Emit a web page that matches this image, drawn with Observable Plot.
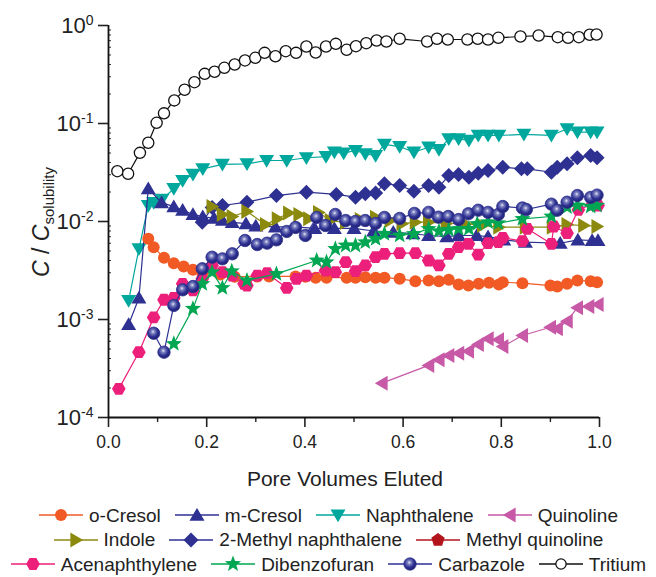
<!DOCTYPE html>
<html><head><meta charset="utf-8">
<script src="https://cdn.jsdelivr.net/npm/d3@7"></script>
<script src="https://cdn.jsdelivr.net/npm/@observablehq/plot@0.6"></script>
<style>
body{margin:0;background:#fff;font-family:"Liberation Sans",Arial,sans-serif;overflow:hidden;}
#wrap{width:656px;}
.legrow{display:flex;justify-content:center;align-items:center;height:24.5px;font-size:19px;line-height:21px;color:#222;white-space:nowrap;}
.item{display:flex;align-items:center;margin:0 6.5px;}
.item svg{margin-right:5px;}
</style></head><body><div id="wrap"></div>
<script>
// ---------- data (x = pore volumes eluted, y = C / C_solubility) ----------
const tritium = [[0.018,0.0326],[0.040,0.0307],[0.064,0.0502],[0.081,0.0636],[0.098,0.1016],[0.113,0.127],[0.134,0.172],[0.155,0.221],[0.175,0.264],[0.196,0.321],[0.216,0.337],[0.236,0.370],[0.257,0.400],[0.278,0.440],[0.299,0.468],[0.318,0.526],[0.340,0.486],[0.361,0.547],[0.382,0.526],[0.403,0.610],[0.422,0.530],[0.443,0.610],[0.463,0.650],[0.485,0.565],[0.504,0.615],[0.525,0.660],[0.546,0.703],[0.566,0.687],[0.593,0.732],[0.649,0.687],[0.669,0.732],[0.691,0.720],[0.731,0.720],[0.752,0.732],[0.773,0.720],[0.794,0.749],[0.839,0.772],[0.876,0.790],[0.915,0.760],[0.936,0.749],[0.958,0.760],[0.980,0.804],[0.994,0.810]];
const naphthalene = [[0.041,0.00156],[0.062,0.00526],[0.081,0.01456],[0.092,0.0156],[0.109,0.0168],[0.133,0.0216],[0.151,0.0262],[0.172,0.0302],[0.192,0.0345],[0.232,0.0382],[0.282,0.0388],[0.322,0.0419],[0.363,0.0419],[0.403,0.0447],[0.443,0.0460],[0.460,0.0509],[0.479,0.0498],[0.503,0.0530],[0.523,0.0491],[0.544,0.0471],[0.562,0.0611],[0.593,0.0582],[0.622,0.0509],[0.652,0.0573],[0.673,0.0540],[0.693,0.0698],[0.713,0.0698],[0.734,0.0671],[0.753,0.0755],[0.773,0.0755],[0.795,0.0755],[0.846,0.0773],[0.902,0.0755],[0.934,0.0883],[0.955,0.0815],[0.982,0.0815],[0.995,0.0815]];
const mCresol = [[0.041,0.00089],[0.062,0.00166],[0.081,0.0216],[0.108,0.0156],[0.133,0.0142],[0.151,0.0131],[0.172,0.0118],[0.192,0.0112],[0.215,0.0108],[0.232,0.0103],[0.252,0.0098],[0.28,0.0095],[0.30,0.0090],[0.34,0.0088],[0.38,0.0088],[0.42,0.0085],[0.46,0.0085],[0.50,0.0085],[0.54,0.0080],[0.58,0.0078],[0.62,0.0075],[0.652,0.0072],[0.689,0.0070],[0.713,0.0072],[0.75,0.0072],[0.773,0.0070],[0.805,0.0065],[0.849,0.00615],[0.92,0.0060],[0.956,0.0065],[0.985,0.0064],[0.997,0.0064]];
const methylNaphthalene = [[0.191,0.0098],[0.211,0.0139],[0.232,0.01456],[0.282,0.01574],[0.342,0.0184],[0.403,0.0199],[0.464,0.0189],[0.503,0.0177],[0.523,0.0192],[0.544,0.0195],[0.562,0.0243],[0.593,0.0233],[0.622,0.0204],[0.652,0.0233],[0.673,0.0224],[0.693,0.0295],[0.713,0.0302],[0.734,0.0283],[0.753,0.0311],[0.773,0.0331],[0.803,0.0358],[0.841,0.0345],[0.853,0.0345],[0.902,0.0318],[0.914,0.0358],[0.934,0.0388],[0.955,0.0447],[0.982,0.0471],[0.995,0.0447]];
const indole = [[0.211,0.0142],[0.232,0.0118],[0.252,0.01125],[0.282,0.01265],[0.320,0.0093],[0.344,0.01066],[0.367,0.01222],[0.388,0.0118],[0.408,0.01066],[0.428,0.01236],[0.452,0.01023],[0.483,0.00977],[0.513,0.01047],[0.544,0.01107],[0.574,0.01023],[0.598,0.00948],[0.625,0.00984],[0.652,0.00984],[0.688,0.00955],[0.727,0.00948],[0.762,0.0091],[0.795,0.00875],[0.849,0.00875],[0.904,0.00875],[0.934,0.0093],[0.968,0.0091],[0.995,0.0089]];
const oCresol = [[0.081,0.00665],[0.092,0.00547],[0.113,0.00426],[0.133,0.00375],[0.153,0.00347],[0.172,0.00322],[0.191,0.00297],[0.228,0.00288],[0.257,0.00273],[0.303,0.00275],[0.327,0.00275],[0.381,0.00275],[0.401,0.00273],[0.422,0.00267],[0.444,0.00267],[0.485,0.00267],[0.503,0.00267],[0.523,0.0027],[0.544,0.00267],[0.562,0.00267],[0.593,0.0026],[0.625,0.00246],[0.652,0.0025],[0.673,0.00246],[0.693,0.00254],[0.713,0.00228],[0.733,0.00222],[0.754,0.00231],[0.775,0.00237],[0.795,0.00228],[0.803,0.0024],[0.843,0.00235],[0.900,0.00222],[0.914,0.00217],[0.934,0.00231],[0.955,0.0025],[0.982,0.00246],[0.995,0.0024]];
const acenaphthylene = [[0.021,0.000196],[0.062,0.000464],[0.092,0.00105],[0.113,0.00159],[0.133,0.00166],[0.151,0.00231],[0.172,0.00198],[0.191,0.0026],[0.211,0.00356],[0.232,0.00304],[0.252,0.00281],[0.276,0.00231],[0.282,0.00222],[0.303,0.00281],[0.323,0.00297],[0.363,0.0021],[0.383,0.0026],[0.403,0.00281],[0.442,0.00316],[0.462,0.00304],[0.483,0.00385],[0.503,0.00311],[0.523,0.00356],[0.544,0.00432],[0.562,0.00468],[0.593,0.00475],[0.625,0.00475],[0.652,0.0040],[0.673,0.00356],[0.693,0.00468],[0.713,0.00547],[0.733,0.00592],[0.753,0.0046],[0.773,0.00601],[0.794,0.00615],[0.803,0.00682],[0.843,0.0063],[0.853,0.00843],[0.902,0.00592],[0.907,0.00889],[0.934,0.0076],[0.957,0.01316],[0.985,0.0149],[0.997,0.01456]];
const dibenzofuran = [[0.133,0.000565],[0.172,0.00129],[0.191,0.00231],[0.211,0.00304],[0.232,0.0021],[0.251,0.00311],[0.282,0.0025],[0.342,0.00292],[0.424,0.0040],[0.444,0.00385],[0.462,0.00526],[0.483,0.00569],[0.503,0.00569],[0.523,0.00615],[0.544,0.00665],[0.562,0.00748],[0.593,0.0072],[0.622,0.00748],[0.652,0.00843],[0.673,0.00796],[0.693,0.00822],[0.713,0.00843],[0.734,0.00843],[0.751,0.00946],[0.773,0.00984],[0.794,0.0096],[0.843,0.01064],[0.902,0.01125],[0.934,0.0140],[0.955,0.01456],[0.982,0.01422],[0.995,0.01456]];
const carbazole = [[0.092,0.000724],[0.113,0.000464],[0.133,0.00139],[0.151,0.00201],[0.172,0.00217],[0.191,0.00329],[0.211,0.00432],[0.232,0.00416],[0.252,0.00468],[0.278,0.0064],[0.303,0.00582],[0.323,0.00601],[0.342,0.0065],[0.363,0.00791],[0.381,0.00869],[0.401,0.0072],[0.424,0.0110],[0.442,0.0091],[0.462,0.0118],[0.483,0.01023],[0.503,0.0100],[0.523,0.01023],[0.544,0.00955],[0.562,0.0110],[0.593,0.01074],[0.623,0.0121],[0.652,0.0124],[0.672,0.01107],[0.692,0.01125],[0.713,0.01047],[0.733,0.0120],[0.753,0.01303],[0.773,0.0124],[0.794,0.0118],[0.803,0.01422],[0.843,0.01374],[0.851,0.01325],[0.902,0.01503],[0.914,0.01303],[0.934,0.01574],[0.955,0.0184],[0.982,0.0176],[0.995,0.0186]];
const quinoline = [[0.557,0.000224],[0.652,0.00034],[0.673,0.000388],[0.693,0.00043],[0.713,0.000453],[0.733,0.000475],[0.753,0.000556],[0.773,0.000635],[0.794,0.000621],[0.803,0.00053],[0.843,0.000687],[0.900,0.000834],[0.914,0.000804],[0.934,0.00096],[0.955,0.00132],[0.978,0.00136],[0.997,0.00142]];
const methylQuinoline = [];

const xTicks = [0, 0.2, 0.4, 0.6, 0.8, 1.0];
const xMinor = [0.1, 0.3, 0.5, 0.7, 0.9];
const yTicks = [1e-4, 1e-3, 1e-2, 1e-1, 1];

// ---------- symbols ----------
const R = s => Math.sqrt(s / Math.PI);
const triDown = {draw(c, s){const r=R(s); c.moveTo(-r,-r*0.75); c.lineTo(r,-r*0.75); c.lineTo(0,r*0.95); c.closePath();}};
const triUp = {draw(c, s){const r=R(s); c.moveTo(-r,r*0.75); c.lineTo(r,r*0.75); c.lineTo(0,-r*0.95); c.closePath();}};
const triLeft = {draw(c, s){const r=R(s); c.moveTo(-r*0.95,0); c.lineTo(r*0.75,-r); c.lineTo(r*0.75,r); c.closePath();}};
const triRight = {draw(c, s){const r=R(s); c.moveTo(r*0.95,0); c.lineTo(-r*0.75,-r); c.lineTo(-r*0.75,r); c.closePath();}};
const diamond = {draw(c, s){const r=R(s); c.moveTo(0,-r); c.lineTo(r,0); c.lineTo(0,r); c.lineTo(-r,0); c.closePath();}};
const hexagon = {draw(c, s){const r=R(s); for(let i=0;i<6;i++){const a=Math.PI/3*i; const px=r*Math.cos(a), py=r*Math.sin(a); i?c.lineTo(px,py):c.moveTo(px,py);} c.closePath();}};
const pentagon = {draw(c, s){const r=R(s); for(let i=0;i<5;i++){const a=-Math.PI/2+2*Math.PI/5*i; const px=r*Math.cos(a), py=r*Math.sin(a); i?c.lineTo(px,py):c.moveTo(px,py);} c.closePath();}};
const star = {draw(c, s){const r=R(s), ri=r*0.42; for(let i=0;i<10;i++){const a=-Math.PI/2+Math.PI/5*i; const rr=i%2?ri:r; const px=rr*Math.cos(a), py=rr*Math.sin(a); i?c.lineTo(px,py):c.moveTo(px,py);} c.closePath();}};
const circle = {draw(c, s){const r=R(s); c.moveTo(r,0); c.arc(0,0,r,0,2*Math.PI);}};

const navy = "#2e3192";
const series = [
  {name:"Tritium", data:tritium, color:"#111", fill:"#fff", sym:circle, r:5.6, sw:1.3},
  {name:"Naphthalene", data:naphthalene, color:"#00a79d", sym:triDown, r:7.5},
  {name:"m-Cresol", data:mCresol, color:navy, sym:triUp, r:7.5},
  {name:"2-Methyl naphthalene", data:methylNaphthalene, color:navy, sym:diamond, r:7.5},
  {name:"Indole", data:indole, color:"#8c8a0e", sym:triRight, r:7.5},
  {name:"o-Cresol", data:oCresol, color:"#f15a24", sym:circle, r:6},
  {name:"Acenaphthylene", data:acenaphthylene, color:"#ec1f7a", sym:hexagon, r:6.8},
  {name:"Dibenzofuran", data:dibenzofuran, color:"#00a651", sym:star, r:8.5},
  {name:"Carbazole", data:carbazole, color:navy, fill:"url(#carbGrad)", sym:circle, r:6.2},
  {name:"Quinoline", data:quinoline, color:"#c759a6", sym:triLeft, r:7.5},
  {name:"Methyl quinoline", data:methylQuinoline, color:"#b3141c", sym:pentagon, r:7}
];

const marks = [];
for (const s of series) {
  if (!s.data.length) continue;
  marks.push(Plot.line(s.data, {x: d=>d[0], y: d=>d[1], stroke: s.color, strokeWidth: 1.2}));
  marks.push(Plot.dot(s.data, {x: d=>d[0], y: d=>d[1], symbol: s.sym, r: s.r,
    fill: s.fill || s.color, stroke: s.fill ? s.color : "none", strokeWidth: s.sw || 0.8}));
}

const yMinor = [];
for (const e of [-4,-3,-2,-1]) for (let k=2;k<=9;k++) yMinor.push(k*Math.pow(10,e));

const chart = Plot.plot({
  width: 656, height: 500,
  marginLeft: 108, marginRight: 57, marginTop: 25, marginBottom: 83,
  style: {fontFamily: '"Liberation Sans", Arial, sans-serif', color: "#222", background: "#fff"},
  x: {domain: [0, 1]},
  y: {type: "log", domain: [1e-4, 1]},
  marks: [
    Plot.ruleY(yMinor, {x1: 0, x2: 0.006, stroke: "#222", strokeWidth: 1}),
    Plot.axisX(xMinor, {tickSize: 5, text: null, label: null, strokeWidth: 1.4, stroke: "#222"}),
    Plot.axisX(xTicks, {tickSize: 10, tickPadding: 8, tickFormat: d3.format(".1f"), fontSize: 17.5, label: null, strokeWidth: 1.6, stroke: "#222", fill: "#222"}),
    Plot.axisY(yTicks, {tickSize: 10, tickPadding: 5, tickFormat: d => String(Math.round(Math.log10(d))), fontSize: 22, label: null, strokeWidth: 1.6, stroke: "#222", fill: "#222"}),
    Plot.ruleX([0], {stroke: "#111", strokeWidth: 1.8}),
    Plot.ruleY([1e-4], {stroke: "#111", strokeWidth: 1.8}),
    ...marks
  ]
});

const svg = d3.select(chart);
// gradient for carbazole spheres
const defs = svg.insert("defs", ":first-child");
const g = defs.append("radialGradient").attr("id","carbGrad").attr("cx","0.42").attr("cy","0.4").attr("r","0.6").attr("fx","0.45").attr("fy","0.38");
g.append("stop").attr("offset","0").attr("stop-color","#e6e8f5");
g.append("stop").attr("offset","0.25").attr("stop-color","#7d82c0");
g.append("stop").attr("offset","0.65").attr("stop-color","#2e3192");
g.append("stop").attr("offset","1").attr("stop-color","#1d1f6e");

// superscript tick labels on y axis
svg.selectAll('g[aria-label="y-axis tick label"] text').each(function(){
  const t = d3.select(this); const e = t.text(); t.text("");
  t.append("tspan").text("10");
  t.append("tspan").attr("dy","-0.55em").attr("font-size","14").text(e);
});

// axis titles
svg.append("text").attr("x", 345).attr("y", 486).attr("text-anchor","middle")
  .attr("font-size", 21).attr("fill","#222").text("Pore Volumes Eluted");
const yl = svg.append("text").attr("transform","translate(49,222) rotate(-90)").attr("text-anchor","middle")
  .attr("font-size", 23).attr("fill","#222");
yl.append("tspan").attr("font-style","italic").text("C");
yl.append("tspan").text(" / ");
yl.append("tspan").attr("font-style","italic").text("C");
yl.append("tspan").attr("font-size", 15).attr("dy", "0.35em").text("solubility");

const wrap = document.getElementById("wrap");
wrap.appendChild(chart);

// legend
const rows = [["o-Cresol","m-Cresol","Naphthalene","Quinoline"],["Indole","2-Methyl naphthalene","Methyl quinoline"],["Acenaphthylene","Dibenzofuran","Carbazole","Tritium"]];
const leg = d3.select(wrap).append("div").style("padding-top","3px");
for (const row of rows) {
  const r = leg.append("div").attr("class","legrow");
  for (const name of row) {
    const s = series.find(d => d.name === name);
    const it = r.append("div").attr("class","item");
    const sv = it.append("svg").attr("width",46).attr("height",20);
    sv.append("line").attr("x1",1).attr("x2",45).attr("y1",10).attr("y2",10).attr("stroke",s.color).attr("stroke-width",1.4);
    const sym = d3.symbol(s.sym, Math.PI*s.r*s.r*(name==="Tritium"?0.85:1));
    sv.append("path").attr("transform","translate(23,10)").attr("d", sym())
      .attr("fill", s.fill ? s.fill : s.color).attr("stroke", s.fill ? s.color : "none").attr("stroke-width", s.sw||0.8);
    it.append("span").text(name);
  }
}
// copy gradient for legend
d3.select(wrap).selectAll(".legrow svg").filter(function(){return d3.select(this).select("path").attr("fill").startsWith("url");})
  .each(function(){ const d=d3.select(this).insert("defs",":first-child"); d.node().appendChild(g.node().cloneNode(true)); });
</script></body></html>
